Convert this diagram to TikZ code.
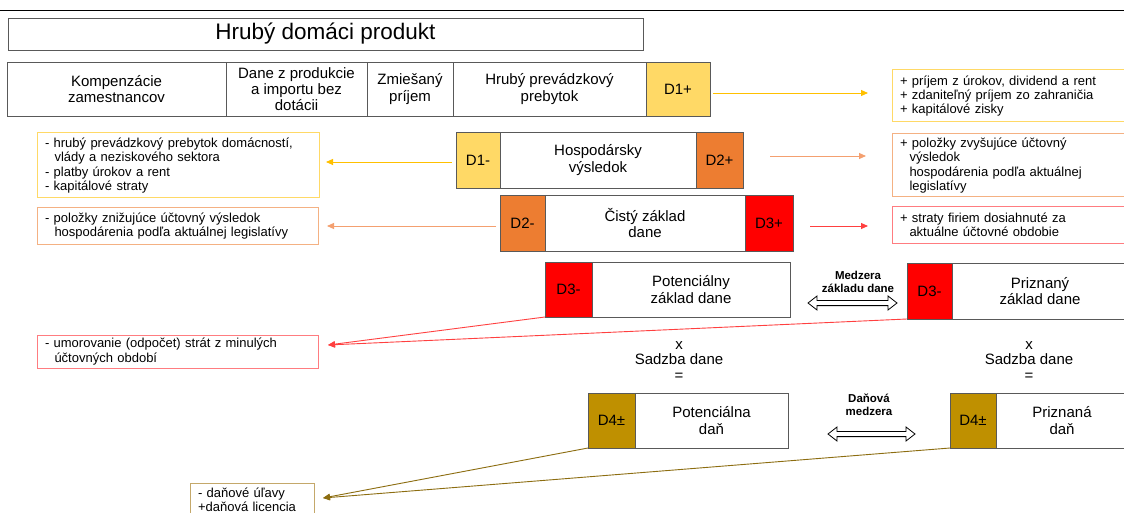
\documentclass[tikz,border=0pt]{standalone}
\usepackage{fontspec}
\setmainfont{Liberation Sans}
\usetikzlibrary{arrows.meta}
\definecolor{cY}{HTML}{FFD966}
\definecolor{cO}{HTML}{ED7D31}
\definecolor{cR}{HTML}{FF0000}
\definecolor{cB}{HTML}{BF9000}
\definecolor{cGr}{HTML}{595959}
\definecolor{bY}{HTML}{FFD966}
\definecolor{bO}{HTML}{F4B183}
\definecolor{bR}{HTML}{FF7C80}
\definecolor{bB}{HTML}{C4A86A}
\definecolor{aY}{HTML}{FFC000}
\definecolor{aO}{HTML}{F4A070}
\definecolor{aR}{HTML}{FF4040}
\definecolor{aB}{HTML}{8C6D10}
\newcommand\mkseg[7]{\node[#6, minimum width=#4pt-#2pt, minimum height=#5pt-#3pt] (#1) at ({(#2+#4)/2},{(#3+#5)/2}) {#7};}
\newcommand\mkside[7]{\pgfmathsetmacro\sidetw{#4-#2-16}\node[side, #6, anchor=west, text width=\sidetw pt, minimum width=#4pt-#2pt, minimum height=#5pt-#3pt] (#1) at (#2,{(#3+#5)/2}) {#7};}
\newcommand\ind{\hspace*{9.5pt}}
\newcommand\dblarrow[2]{\draw[line width=0.8pt, fill=white]
  (#1) -- ([shift={(9,-7)}]#1) -- ([shift={(9,-2.6)}]#1) -- ([shift={(-9,-2.6)}]#2) -- ([shift={(-9,-7)}]#2) -- (#2)
  -- ([shift={(-9,7)}]#2) -- ([shift={(-9,2.6)}]#2) -- ([shift={(9,2.6)}]#1) -- ([shift={(9,7)}]#1) -- cycle;}
\begin{document}
\begin{tikzpicture}[x=1pt,y=-1pt,
  seg/.style={draw=cGr, line width=0.8pt, inner sep=0pt, outer sep=0pt, align=center, font=\fontsize{15}{16.2}\selectfont},
  side/.style={line width=1pt, inner xsep=8pt, inner ysep=1pt, outer sep=0pt, align=left, font=\fontsize{13}{14.2}\selectfont},
  lab/.style={align=center, inner sep=0pt, font=\fontsize{15}{15.5}\selectfont},
  blab/.style={align=center, inner sep=0pt, font=\bfseries\fontsize{11.5}{13.5}\selectfont},
  conn/.style={line width=0.9pt, -{Triangle[length=7pt,width=6pt]}}]
\useasboundingbox (0,0) rectangle (1124,513);
\fill[white] (0,0) rectangle (1124,513);
\draw[line width=1.4pt] (-2,10.5) -- (1126,10.5);

\mkseg{hdp}{8}{18}{643}{50}{seg, font=\fontsize{22.5}{24}\selectfont}{Hrubý domáci produkt}

\mkseg{k}{7}{62}{226}{116}{seg}{Kompenzácie\\zamestnancov}
\mkseg{dz}{226}{62}{367}{116}{seg}{Dane z produkcie\\a importu bez\\dotácii}
\mkseg{zp}{367}{62}{453}{116}{seg}{Zmiešaný\\príjem}
\mkseg{hpp}{453}{62}{646}{116}{seg}{Hrubý prevádzkový\\prebytok}
\mkseg{d1p}{646}{62}{710}{116}{seg, fill=cY}{D1+}

\mkside{r1}{892}{70}{1132}{122}{draw=bY}{+ príjem z úrokov, dividend a rent\\+ zdaniteľný príjem zo zahraničia\\+ kapitálové zisky}

\mkseg{d1m}{456}{132}{500}{188}{seg, fill=cY}{D1-}
\mkseg{hv}{500}{132}{696}{188}{seg}{Hospodársky\\výsledok}
\mkseg{d2p}{696}{132}{743}{188}{seg, fill=cO}{D2+}

\mkside{l1}{37}{133}{319}{198}{draw=bY}{- hrubý prevádzkový prebytok domácností,\\\ind vlády a neziskového sektora\\- platby úrokov a rent\\- kapitálové straty}
\mkside{r2}{892}{134}{1132}{197}{draw=bO}{+ položky zvyšujúce účtovný\\\ind výsledok\\\ind hospodárenia podľa aktuálnej\\\ind legislatívy}

\mkseg{d2m}{500}{195}{545}{251}{seg, fill=cO}{D2-}
\mkseg{czd}{545}{195}{745}{251}{seg}{Čistý základ\\dane}
\mkseg{d3p}{745}{195}{793}{251}{seg, fill=cR}{D3+}

\mkside{l2}{37}{208}{318}{244}{draw=bO}{- položky znižujúce účtovný výsledok\\\ind hospodárenia podľa aktuálnej legislatívy}
\mkside{r3}{892}{207}{1132}{243}{draw=bR}{+ straty firiem dosiahnuté za\\\ind aktuálne účtovné obdobie}

\mkseg{d3m}{545}{262}{592}{317}{seg, fill=cR}{D3-}
\mkseg{pzd}{592}{262}{790}{317}{seg}{Potenciálny\\základ dane}
\mkseg{d3mb}{907}{263}{952}{319}{seg, fill=cR}{D3-}
\mkseg{przd}{952}{263}{1128}{319}{seg}{Priznaný\\základ dane}
\node[blab] (mzd) at (858,282) {Medzera\\základu dane};

\mkside{l3}{37}{335}{318}{368}{draw=bR}{- umorovanie (odpočet) strát z minulých\\\ind účtovných období}

\node[lab] (sd1) at (679,361) {x\\Sadzba dane\\=};
\node[lab] (sd2) at (1029,361) {x\\Sadzba dane\\=};

\mkseg{d4m}{588}{393}{635}{448}{seg, fill=cB}{D4±}
\mkseg{pd}{635}{393}{788}{448}{seg}{Potenciálna\\daň}
\mkseg{d4mb}{950}{393}{996}{448}{seg, fill=cB}{D4±}
\mkseg{prd}{996}{393}{1128}{448}{seg}{Priznaná\\daň}
\node[blab] (dm) at (869,405) {Daňová\\medzera};

\mkside{l4}{190}{483}{314}{517}{draw=bB}{- daňové úľavy\\+daňová licencia}

% connectors
\coordinate (t1) at (868,93);
\coordinate (t2) at (326,162);
\coordinate (t3) at (866,156);
\coordinate (t4) at (327,226);
\coordinate (t4b) at (868,226);
\coordinate (t5) at (328,345);
\coordinate (t6) at (323,498);
\coordinate (m1) at (808,303);
\coordinate (m2) at (897,303);
\coordinate (n1) at (828,434);
\coordinate (n2) at (915,434);

\draw[conn, aY, shorten <=3pt] (d1p.east |- t1) -- (t1);
\draw[conn, aY, shorten <=4pt] (d1m.west |- t2) -- (t2);
\draw[conn, aO, shorten <=27pt] (d2p.east |- t3) -- (t3);
\draw[conn, aO, shorten <=4pt] (d2m.west |- t4) -- (t4);
\draw[conn, aR, shorten <=17pt] (d3p.east |- t4b) -- (t4b);
\draw[conn, aR] (d3m.south west) -- (t5);
\draw[conn, aR] (d3mb.south west) -- (t5);
\draw[conn, aB] (d4m.south west) -- (t6);
\draw[conn, aB] (d4mb.south west) -- (t6);
\dblarrow{m1}{m2}
\dblarrow{n1}{n2}
\end{tikzpicture}
\end{document}
